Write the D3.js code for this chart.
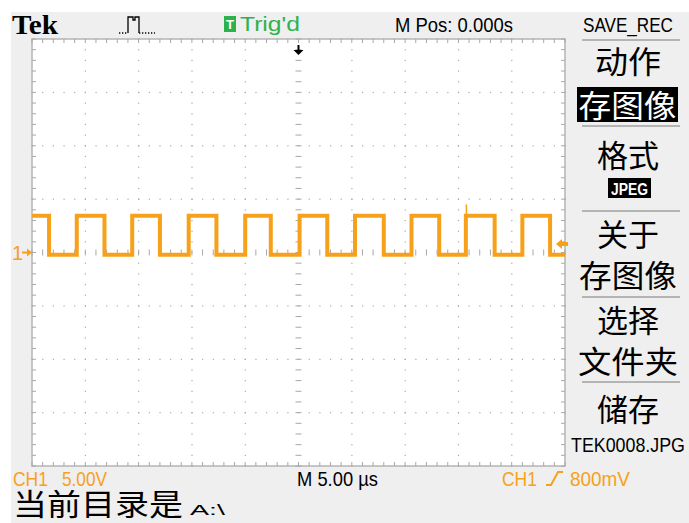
<!DOCTYPE html>
<html><head><meta charset="utf-8">
<script src="https://cdn.jsdelivr.net/npm/d3@7"></script>
<style>body{margin:0;background:#fff} svg{display:block}</style>
</head><body><svg id="c" width="689" height="523"></svg>
<script>
// ---- data ----
const timePerDiv = 5;      // µs / div
const voltsPerDiv = 5;     // V / div
const risingEdges  = [-20.8, -15.6, -10.3, -5.0, 0.1, 5.3, 10.6, 15.7, 21.0];   // µs
const fallingEdges = [-23.4, -18.2, -13.0, -7.7, -2.6, 2.7, 8.0, 13.2, 18.4, 23.6]; // µs
const highLevel = 3.45;    // V
const lowLevel = -0.2;     // V
const glitchTimes = [15.75];
const glitchVolts = [4.5];
const triggerLevel = 0.8;  // V
const headerTexts = ["Tek", "Trig'd", "M Pos: 0.000s", "SAVE_REC"];
const menuLabels = ["动作", "存图像", "格式", "JPEG", "关于", "存图像", "选择", "文件夹", "储存", "TEK0008.JPG"];
const footerTexts = ["CH1", "5.00V", "M 5.00 µs", "CH1", "800mV", "当前目录是", "A:\\"];

const svg = d3.select("#c");
const W = 689, H = 523;
const sx0 = 32, sx1 = 565, sy0 = 39, sy1 = 466;
const ORANGE = "#f7a11a", GRID = "#a8a8a8", BG = "#efefef";
const SANS = "'Liberation Sans','DejaVu Sans',sans-serif";
const CJK = "'Noto Sans CJK SC','Noto Sans CJK JP',sans-serif";

// text squeezed horizontally to a target width (the scope's font is condensed)
function fitText(px, py, str, size, len, color, opts = {}) {
  const t = svg.append("text").attr("x", 0).attr("y", 0).attr("font-family", opts.family || SANS)
    .attr("font-size", size).attr("fill", color).text(str);
  if (opts.weight) t.attr("font-weight", opts.weight);
  if (opts.anchor) t.attr("text-anchor", opts.anchor);
  let s = 1;
  if (len) s = len / t.node().getComputedTextLength();
  t.attr("transform", `translate(${px},${py}) scale(${s},1)`);
  return t;
}

svg.append("rect").attr("width", W).attr("height", H).attr("fill", "#fff");
svg.append("rect").attr("x", 11).attr("y", 12).attr("width", W - 11).attr("height", H - 12).attr("fill", BG);

const x = d3.scaleLinear().domain([-5 * timePerDiv, 5 * timePerDiv]).range([sx0, sx1]);
const y = d3.scaleLinear().domain([-4 * voltsPerDiv, 4 * voltsPerDiv]).range([sy1, sy0]);

// screen
svg.append("rect").attr("x", sx0).attr("y", sy0).attr("width", sx1 - sx0).attr("height", sy1 - sy0)
  .attr("fill", "#fff").attr("stroke", "#b5b5b5").attr("stroke-width", 1.5);

const g = svg.append("g");
const majorT = d3.range(-5, 6).map(d => d * timePerDiv);
const majorV = d3.range(-4, 5).map(d => d * voltsPerDiv);
const minorT = d3.range(-25, 26).map(d => d * timePerDiv / 5);
const minorV = d3.range(-20, 21).map(d => d * voltsPerDiv / 5);

// dotted grid lines
majorT.slice(1, -1).forEach(t => {
  if (t === 0) return;
  minorV.forEach(v => g.append("rect").attr("x", x(t) - 0.5).attr("y", y(v) - 0.5).attr("width", 1.2).attr("height", 1.2).attr("fill", GRID));
});
majorV.slice(1, -1).forEach(v => {
  if (v === 0) return;
  minorT.forEach(t => g.append("rect").attr("x", x(t) - 0.5).attr("y", y(v) - 0.5).attr("width", 1.2).attr("height", 1.2).attr("fill", GRID));
});
// center cross ticks
minorV.forEach(v => g.append("line").attr("x1", x(0) - 3).attr("x2", x(0) + 3).attr("y1", y(v)).attr("y2", y(v)).attr("stroke", GRID));
minorT.forEach(t => g.append("line").attr("y1", y(0) - 3).attr("y2", y(0) + 3).attr("x1", x(t)).attr("x2", x(t)).attr("stroke", GRID));
// border ticks
minorT.forEach(t => {
  g.append("line").attr("x1", x(t)).attr("x2", x(t)).attr("y1", sy0).attr("y2", sy0 + 4).attr("stroke", GRID);
  g.append("line").attr("x1", x(t)).attr("x2", x(t)).attr("y1", sy1).attr("y2", sy1 - 4).attr("stroke", GRID);
});
minorV.forEach(v => {
  g.append("line").attr("y1", y(v)).attr("y2", y(v)).attr("x1", sx0).attr("x2", sx0 + 4).attr("stroke", GRID);
  g.append("line").attr("y1", y(v)).attr("y2", y(v)).attr("x1", sx1).attr("x2", sx1 - 4).attr("stroke", GRID);
});

// waveform
const edges = risingEdges.map(t => ({t, up: true})).concat(fallingEdges.map(t => ({t, up: false}))).sort((a, b) => a.t - b.t);
let state = !edges[0].up;
const pts = [{t: x.domain()[0], v: state ? highLevel : lowLevel}];
edges.forEach(e => {
  pts.push({t: e.t, v: state ? highLevel : lowLevel});
  state = e.up;
  pts.push({t: e.t, v: state ? highLevel : lowLevel});
});
pts.push({t: x.domain()[1], v: state ? highLevel : lowLevel});
const line = d3.line().x(d => x(d.t)).y(d => y(d.v));
svg.append("path").attr("d", line(pts)).attr("fill", "none").attr("stroke", ORANGE)
  .attr("stroke-width", 4).attr("stroke-linejoin", "miter");
glitchTimes.forEach((t, i) => {
  svg.append("line").attr("x1", x(t)).attr("x2", x(t)).attr("y1", y(highLevel)).attr("y2", y(glitchVolts[i]))
    .attr("stroke", ORANGE).attr("stroke-width", 1.5);
});

// trigger level arrow (right)
const ty = y(triggerLevel);
svg.append("path").attr("d", `M${sx1 - 9},${ty} l6,-5 v3 h6 v4 h-6 v3 z`).attr("fill", ORANGE);
// trigger position arrow (top)
const tx = x(0);
svg.append("path").attr("d", `M${tx - 1},${sy0 + 6} h2 v5 h4 l-5,5 l-5,-5 h4 z`).attr("fill", "#000");
// channel marker
fitText(12, y(0) + 7, "1", 20, null, ORANGE);
svg.append("path").attr("d", `M${sx0 - 10},${y(0) - 1} h5 v-3 l5,4 l-5,4 v-3 h-5 z`).attr("fill", ORANGE);

// header
fitText(12, 34, headerTexts[0], 27, 46, "#000", {family: "'Liberation Serif','DejaVu Serif',serif", weight: "bold"});
// pulse icon
svg.append("path").attr("d", "M119,33 h9 M139,33 h16").attr("stroke", "#000").attr("stroke-width", 1.3).attr("stroke-dasharray", "1.3,1.7");
svg.append("path").attr("d", "M128,33 V17 h5 v3 h2 v-3 h4 V33")
  .attr("fill", "none").attr("stroke", "#000").attr("stroke-width", 1.3);
svg.append("rect").attr("x", 224).attr("y", 16).attr("width", 12).attr("height", 16).attr("fill", "#2db24a");
fitText(230, 29, "T", 13, null, "#fff", {anchor: "middle", weight: "bold"});
fitText(240, 31, headerTexts[1], 21, 60, "#2db24a");
fitText(395, 32, headerTexts[2], 21, 118, "#000");
fitText(583, 32, headerTexts[3], 21, 90, "#000");

// menu
const sepYs = [40, 126, 211, 297, 382];
sepYs.forEach(sy => svg.append("line").attr("x1", 582).attr("x2", 680).attr("y1", sy).attr("y2", sy)
  .attr("stroke", "#a0a0a0").attr("stroke-width", 1.5));
const mcx = 628;
const menuLayout = [
  {b: 73, size: 31, len: 66}, {b: 117, size: 31, inv: true, box: [577, 87, 101, 35], len: 98}, {b: 167, size: 31, len: 62},
  {b: 195, size: 17, inv: true, box: [608, 178, 43, 20], latin: true, len: 37},
  {b: 246, size: 31, len: 62}, {b: 287, size: 31, len: 98}, {b: 332, size: 31, len: 62}, {b: 373, size: 31, len: 100}, {b: 421, size: 31, len: 62},
  {b: 452, size: 21, latin: true, len: 114}
];
menuLabels.forEach((lab, i) => {
  const L = menuLayout[i];
  if (L.box) svg.append("rect").attr("x", L.box[0]).attr("y", L.box[1]).attr("width", L.box[2]).attr("height", L.box[3]).attr("fill", "#000");
  fitText(L.box ? L.box[0] + L.box[2] / 2 : mcx, L.b, lab, L.size, L.len, L.inv ? "#fff" : "#000",
    {anchor: "middle", family: L.latin ? SANS : CJK, weight: L.latin && L.inv ? "bold" : null});
});

// footer
const fy = 486;
fitText(13, fy, footerTexts[0], 20, 35, ORANGE);
fitText(62, fy, footerTexts[1], 20, 45, ORANGE);
fitText(297, fy, footerTexts[2], 20, 81, "#000");
fitText(502, fy, footerTexts[3], 20, 35, ORANGE);
svg.append("path").attr("d", `M546,${fy - 1} h5 l7,-13 h5`).attr("fill", "none").attr("stroke", ORANGE).attr("stroke-width", 2);
fitText(570, fy, footerTexts[4], 20, 60, ORANGE);
fitText(13, 515, footerTexts[5], 30, 170, "#000", {family: CJK});
fitText(190, 515, footerTexts[6], 14, 35, "#000");
</script></body></html>
